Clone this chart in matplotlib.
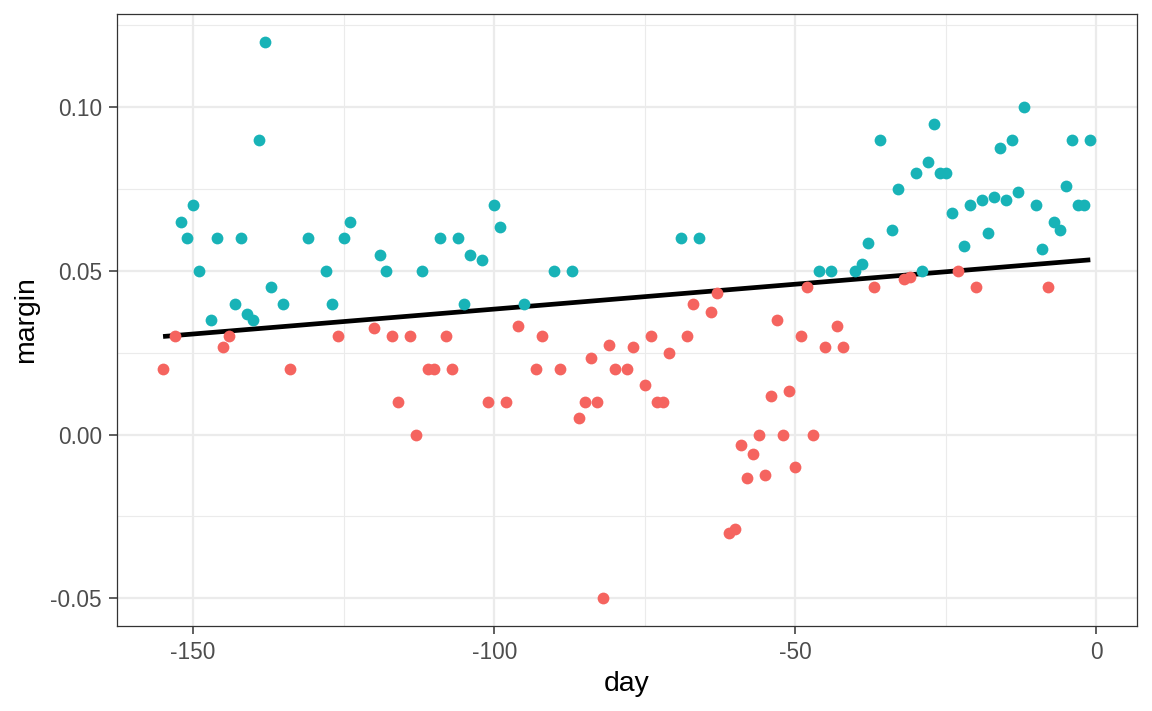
import matplotlib
matplotlib.use("Agg")
import matplotlib.pyplot as plt
import numpy as np
from matplotlib.ticker import MultipleLocator

plt.rcParams['font.family'] = ['Liberation Sans', 'DejaVu Sans']

# data
day = [-155, -153, -152, -151, -150, -149, -147, -146, -145, -144, -143, -142,
       -141, -140, -139, -138, -137, -135, -134, -131, -128, -127, -126, -125,
       -124, -120, -119, -118, -117, -116, -114, -113, -112, -111, -110, -109,
       -108, -107, -106, -105, -104, -102, -101, -100, -99, -98, -96, -95,
       -93, -92, -90, -89, -87, -86, -85, -84, -83, -82, -81, -80,
       -78, -77, -75, -74, -73, -72, -71, -69, -68, -67, -66, -64,
       -63, -61, -60, -59, -58, -57, -56, -55, -54, -53, -52, -51,
       -50, -49, -48, -47, -46, -45, -44, -43, -42, -40, -39, -38,
       -37, -36, -34, -33, -32, -31, -30, -29, -28, -27, -26, -25,
       -24, -23, -22, -21, -20, -19, -18, -17, -16, -15, -14, -13,
       -12, -10, -9, -8, -7, -6, -5, -4, -3, -2, -1]
margin = [0.020, 0.030, 0.065, 0.060, 0.070, 0.050, 0.035, 0.060, 0.0267, 0.030, 0.040, 0.060,
          0.0367, 0.035, 0.090, 0.120, 0.045, 0.040, 0.020, 0.060, 0.050, 0.040, 0.030, 0.060,
          0.065, 0.0325, 0.055, 0.050, 0.030, 0.010, 0.030, 0.000, 0.050, 0.020, 0.020, 0.060,
          0.030, 0.020, 0.060, 0.040, 0.055, 0.0534, 0.010, 0.070, 0.0633, 0.010, 0.0333, 0.040,
          0.020, 0.030, 0.050, 0.020, 0.050, 0.005, 0.010, 0.0234, 0.010, -0.050, 0.0275, 0.020,
          0.020, 0.0267, 0.015, 0.030, 0.010, 0.010, 0.025, 0.060, 0.030, 0.040, 0.060, 0.0375,
          0.0433, -0.030, -0.0287, -0.0033, -0.0133, -0.0059, 0.000, -0.0125, 0.0117, 0.035, 0.000, 0.0133,
          -0.010, 0.030, 0.045, 0.000, 0.050, 0.0267, 0.050, 0.0333, 0.0267, 0.050, 0.052, 0.0584,
          0.045, 0.090, 0.0626, 0.075, 0.0475, 0.048, 0.080, 0.050, 0.0833, 0.095, 0.080, 0.080,
          0.0676, 0.050, 0.0576, 0.070, 0.045, 0.0717, 0.0617, 0.0726, 0.0875, 0.0717, 0.090, 0.0741,
          0.100, 0.070, 0.0567, 0.045, 0.065, 0.0626, 0.076, 0.090, 0.070, 0.070, 0.090]
# 1 = above the trend (teal), 0 = below (red)
above = [0, 0, 1, 1, 1, 1, 1, 1, 0, 0, 1, 1,
         1, 1, 1, 1, 1, 1, 0, 1, 1, 1, 0, 1,
         1, 0, 1, 1, 0, 0, 0, 0, 1, 0, 0, 1,
         0, 0, 1, 1, 1, 1, 0, 1, 1, 0, 0, 1,
         0, 0, 1, 0, 1, 0, 0, 0, 0, 0, 0, 0,
         0, 0, 0, 0, 0, 0, 0, 1, 0, 0, 1, 0,
         0, 0, 0, 0, 0, 0, 0, 0, 0, 0, 0, 0,
         0, 0, 0, 0, 1, 0, 1, 0, 0, 1, 1, 1,
         0, 1, 1, 1, 0, 0, 1, 1, 1, 1, 1, 1,
         1, 0, 1, 1, 0, 1, 1, 1, 1, 1, 1, 1,
         1, 1, 1, 0, 1, 1, 1, 1, 1, 1, 1]

day = np.array(day)
margin = np.array(margin)
above = np.array(above, dtype=bool)

fig = plt.figure(figsize=(11.52, 7.11), dpi=100)
ax = fig.add_axes([0.1013, 0.1195, 0.8854, 0.8608])

# linear trend
slope, intercept = np.polyfit(day, margin, 1)
xs = np.array([day.min(), day.max()])
ax.plot(xs, intercept + slope * xs, color='black', lw=3.4, zorder=2, solid_capstyle='butt')

ax.scatter(day[~above], margin[~above], s=72, color='#F5645F', lw=0, zorder=3)
ax.scatter(day[above], margin[above], s=72, color='#18B3B7', lw=0, zorder=3)

ax.set_xlim(-162.7, 6.7)
ax.set_ylim(-0.0585, 0.1285)
ax.xaxis.set_minor_locator(MultipleLocator(25))
ax.yaxis.set_minor_locator(MultipleLocator(0.025))
ax.set_xticks([-150, -100, -50, 0])
ax.set_xticklabels(['-150', '-100', '-50', '0'])
ax.set_yticks([-0.05, 0.0, 0.05, 0.10])
ax.set_yticklabels(['-0.05', '0.00', '0.05', '0.10'])

ax.grid(which='major', color='#EBEBEB', lw=1.6, zorder=0)
ax.grid(which='minor', color='#EBEBEB', lw=0.8, zorder=0)
ax.set_axisbelow(True)
for sp in ax.spines.values():
    sp.set_color('#333333')
    sp.set_linewidth(0.9)
ax.tick_params(which='major', length=5.5, width=1.1, color='#333333',
               labelsize=16.3, labelcolor='#4D4D4D', pad=5)
ax.tick_params(which='minor', length=0)

ax.set_xlabel('day', fontsize=20.4, color='black', labelpad=5)
ax.set_ylabel('margin', fontsize=20.4, color='black', labelpad=8)

fig.savefig('out.png', dpi=100)
